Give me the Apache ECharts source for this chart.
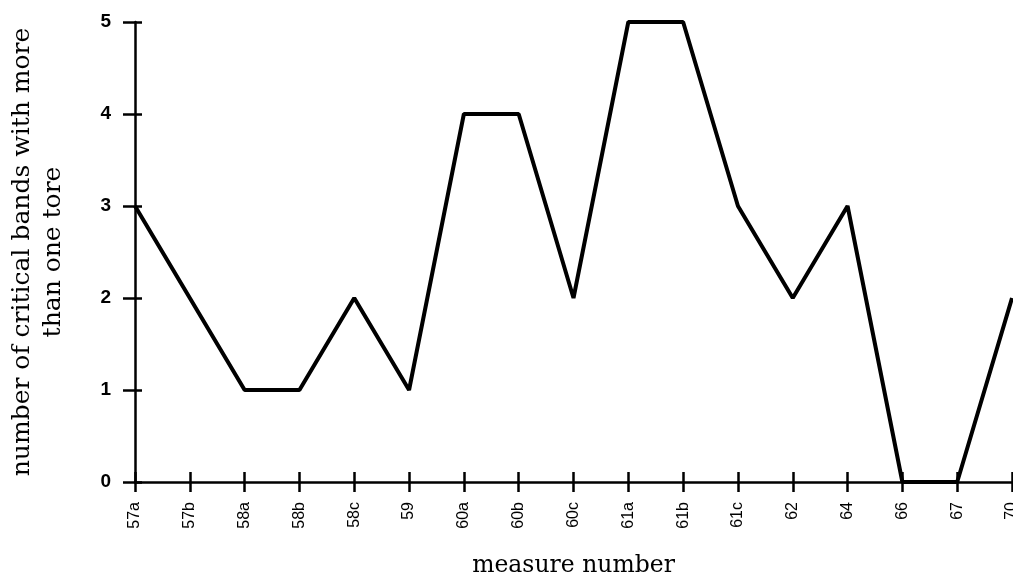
<!DOCTYPE html>
<html>
<head>
<meta charset="utf-8">
<script src="https://cdn.jsdelivr.net/npm/echarts@6/dist/echarts.min.js"></script>
<style>
html, body { margin: 0; padding: 0; background: #fff; }
#main { width: 1013px; height: 578px; }
</style>
</head>
<body>
<div id="main"></div>
<script>
// measures on the x axis
var measures = ['57a', '57b', '58a', '58b', '58c', '59', '60a', '60b', '60c',
                '61a', '61b', '61c', '62', '64', '66', '67', '70'];
// critical bands with more than one tone
var bandCounts = [3, 2, 1, 1, 2, 1, 4, 4, 2, 5, 5, 3, 2, 3, 0, 0, 2];
var yTicks = [0, 1, 2, 3, 4, 5];

var serif = '"DejaVu Serif", "Liberation Serif", serif';
var sans = '"Liberation Sans Narrow", "Liberation Sans", Arial, sans-serif';

var myChart = echarts.init(document.getElementById('main'));

var option = {
    animation: false,
    backgroundColor: '#fff',
    grid: { left: 135, right: 1, top: 22, bottom: 96, outerBoundsMode: 'none', containLabel: false },
    xAxis: [
        {
            type: 'category',
            data: measures,
            boundaryGap: false,
            name: 'measure number',
            nameLocation: 'middle',
            nameGap: 72,
            nameTextStyle: { fontFamily: serif, fontSize: 23.5, color: '#000' },
            axisLine: { lineStyle: { color: '#000', width: 2.5 } },
            axisTick: { length: 10, lineStyle: { color: '#000', width: 2.5 }, alignWithLabel: true },
            axisLabel: {
                rotate: 90,
                interval: 0,
                margin: 20,
                color: '#000',
                fontFamily: sans,
                fontSize: 16
            },
            splitLine: { show: false }
        },
        {   // inner half of the crossing ticks
            type: 'category',
            data: measures,
            boundaryGap: false,
            position: 'bottom',
            axisLine: { show: false },
            axisTick: { inside: true, length: 10, lineStyle: { color: '#000', width: 2.5 } },
            axisLabel: { show: false },
            splitLine: { show: false }
        }
    ],
    yAxis: [
        {
            type: 'value',
            min: yTicks[0],
            max: yTicks[yTicks.length - 1],
            interval: 1,
            name: 'number of critical bands with more\nthan one tore',
            nameLocation: 'middle',
            nameGap: 66,
            nameTextStyle: { fontFamily: serif, fontSize: 25, color: '#000', lineHeight: 31 },
            axisLine: { show: true, lineStyle: { color: '#000', width: 2.5 } },
            axisTick: { show: true, length: 12, lineStyle: { color: '#000', width: 2.5 } },
            axisLabel: { margin: 24, color: '#000', fontFamily: '"Liberation Sans", Arial, sans-serif', fontWeight: 'bold', fontSize: 19 },
            splitLine: { show: false }
        },
        {   // inner half of the crossing ticks
            type: 'value',
            min: yTicks[0],
            max: yTicks[yTicks.length - 1],
            interval: 1,
            position: 'left',
            axisLine: { show: false },
            axisTick: { show: true, inside: true, length: 7, lineStyle: { color: '#000', width: 2.5 } },
            axisLabel: { show: false },
            splitLine: { show: false }
        }
    ],
    series: [
        {
            type: 'line',
            data: bandCounts,
            symbol: 'none',
            lineStyle: { color: '#000', width: 4 },
            z: 3
        }
    ]
};

myChart.setOption(option);
window.onresize = myChart.resize;
</script>
</body>
</html>
